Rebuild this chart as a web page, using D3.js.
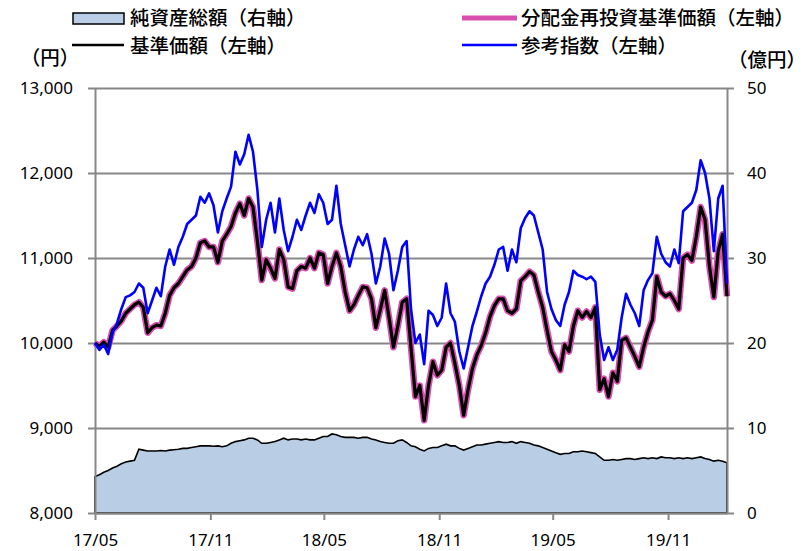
<!DOCTYPE html>
<html>
<head>
<meta charset="utf-8">
<script src="https://cdn.jsdelivr.net/npm/d3@7"></script>
<style>
  body { margin: 0; background: #fff; }
  text { fill: #000; }
</style>
</head>
<body>
<svg id="chart" width="806" height="551"></svg>
<script>
// weekly readings starting at 2017/05/01
const startDate = new Date(2017, 4, 1);
const tickMonths = ["2017-05", "2017-11", "2018-05", "2018-11", "2019-05", "2019-11"];
const leftTicks = [8000, 9000, 10000, 11000, 12000, 13000];
const rightTicks = [0, 10, 20, 30, 40, 50];

// 基準価額 (円)
const basePrice = [
  10000, 9960, 10010, 9950, 10150, 10200, 10260, 10350, 10400, 10450,
  10480, 10420, 10120, 10180, 10210, 10200, 10350, 10560, 10650, 10700,
  10780, 10860, 10900, 11000, 11180, 11200, 11130, 11130, 10950, 11200,
  11280, 11370, 11530, 11640, 11500, 11700, 11600, 11200, 10740, 10980,
  10880, 10760, 11100, 10980, 10660, 10640, 10850, 10900, 10880, 11000,
  10880, 11060, 11040, 10700, 10900, 11060, 10900, 10600, 10380, 10450,
  10560, 10660, 10650, 10520, 10180, 10390, 10620, 10300, 9950, 10200,
  10480, 10520, 9950, 9370, 9500, 9090, 9500, 9780, 9620, 9680,
  9950, 10000, 9760, 9500, 9150, 9450, 9700, 9860, 9970, 10120,
  10310, 10440, 10520, 10520, 10380, 10350, 10400, 10730, 10780, 10840,
  10800, 10600, 10420, 10150, 9900, 9800, 9680, 9980, 9900, 10200,
  10380, 10300, 10370, 10300, 10420, 9450, 9580, 9370, 9650, 9550,
  10030, 10060, 9950, 9840, 9720, 9950, 10130, 10270, 10780, 10600,
  10550, 10580, 10500, 10400, 11000, 11040, 10970, 11250, 11600, 11450,
  10900, 10540, 11080, 11280, 10550
];

// 分配金再投資基準価額 (円) - no distributions, sits under the base price
const reinvestPrice = [
  10000, 9960, 10010, 9950, 10150, 10200, 10260, 10350, 10400, 10450,
  10480, 10420, 10120, 10180, 10210, 10200, 10350, 10560, 10650, 10700,
  10780, 10860, 10900, 11000, 11180, 11200, 11130, 11130, 10950, 11200,
  11280, 11370, 11530, 11640, 11500, 11700, 11600, 11200, 10740, 10980,
  10880, 10760, 11100, 10980, 10660, 10640, 10850, 10900, 10880, 11000,
  10880, 11060, 11040, 10700, 10900, 11060, 10900, 10600, 10380, 10450,
  10560, 10660, 10650, 10520, 10180, 10390, 10620, 10300, 9950, 10200,
  10480, 10520, 9950, 9370, 9500, 9090, 9500, 9780, 9620, 9680,
  9950, 10000, 9760, 9500, 9150, 9450, 9700, 9860, 9970, 10120,
  10310, 10440, 10520, 10520, 10380, 10350, 10400, 10730, 10780, 10840,
  10800, 10600, 10420, 10150, 9900, 9800, 9680, 9980, 9900, 10200,
  10380, 10300, 10370, 10300, 10420, 9450, 9580, 9370, 9650, 9550,
  10030, 10060, 9950, 9840, 9720, 9950, 10130, 10270, 10780, 10600,
  10550, 10580, 10500, 10400, 11000, 11040, 10970, 11250, 11600, 11450,
  10900, 10540, 11080, 11280, 10550
];

// 参考指数
const refIndex = [
  10000, 9920, 9980, 9870, 10120, 10230, 10400, 10540, 10560, 10600,
  10700, 10650, 10350, 10500, 10650, 10550, 10900, 11100, 10920, 11130,
  11250, 11400, 11450, 11500, 11720, 11650, 11760, 11620, 11300, 11550,
  11700, 11840, 12250, 12100, 12220, 12450, 12250, 11800, 11130, 11450,
  11650, 11300, 11700, 11330, 11080, 11250, 11450, 11330, 11500, 11650,
  11530, 11750, 11650, 11400, 11450, 11850, 11400, 11150, 10900, 11100,
  11250, 11150, 11280, 11050, 10700, 10900, 11230, 11050, 10620, 10850,
  11130, 11200, 10400, 10000, 10100, 9750, 10380, 10330, 10200, 10300,
  10700, 10350, 10250, 9900, 9700, 9950, 10200, 10370, 10550, 10700,
  10780, 10920, 11100, 11130, 10850, 11100, 10950, 11350, 11470, 11550,
  11500, 11300, 11100, 10600, 10400, 10270, 10200, 10450, 10600, 10850,
  10800, 10780, 10750, 10780, 10720, 10100, 9800, 9950, 9800, 9920,
  10300, 10580, 10450, 10350, 10200, 10620, 10740, 10820, 11250, 11050,
  10950, 10900, 11100, 10940, 11550, 11600, 11650, 11800, 12150, 12000,
  11700, 11080, 11700, 11850, 10700
];

// 純資産総額 (億円)
const netAssets = [
  4.3, 4.5, 4.8, 5.0, 5.3, 5.5, 5.8, 6.0, 6.1, 6.2,
  7.5, 7.4, 7.3, 7.3, 7.3, 7.35, 7.3, 7.4, 7.45, 7.5,
  7.6, 7.6, 7.7, 7.8, 7.9, 7.9, 7.9, 7.85, 7.9, 7.8,
  7.9, 8.2, 8.4, 8.5, 8.6, 8.8, 8.8, 8.6, 8.2, 8.2,
  8.3, 8.4, 8.6, 8.8, 8.6, 8.7, 8.7, 8.6, 8.7, 8.6,
  8.6, 8.8, 9.0, 9.0, 9.3, 9.2, 9.0, 8.9, 8.9, 8.9,
  8.8, 8.9, 8.9, 8.7, 8.6, 8.4, 8.3, 8.2, 8.2, 8.5,
  8.6, 8.3, 7.9, 7.8, 7.5, 7.3, 7.6, 7.7, 7.7, 7.9,
  8.1, 7.9, 7.9, 7.6, 7.4, 7.6, 7.8, 8.0, 8.0, 8.1,
  8.2, 8.3, 8.4, 8.3, 8.3, 8.4, 8.2, 8.4, 8.3, 8.2,
  8.0, 7.9, 7.7, 7.5, 7.3, 7.1, 6.9, 7.0, 7.0, 7.2,
  7.2, 7.3, 7.2, 7.1, 7.0, 6.6, 6.2, 6.2, 6.3, 6.2,
  6.3, 6.4, 6.4, 6.3, 6.4, 6.5, 6.4, 6.5, 6.4, 6.6,
  6.5, 6.5, 6.4, 6.5, 6.4, 6.5, 6.4, 6.5, 6.6, 6.4,
  6.3, 6.1, 6.2, 6.1, 5.9
];

const dates = basePrice.map((_, i) => d3.timeDay.offset(startDate, 7 * i));
const tickDates = tickMonths.map(d3.timeParse("%Y-%m"));

const plot = { left: 95, right: 727, top: 88, bottom: 513 };
const numFont = "'Noto Sans', 'DejaVu Sans', sans-serif";
const jpFont = "'Noto Sans CJK JP', sans-serif";
const gridColor = "#878787";

const svg = d3.select("#chart");

const x = d3.scaleTime()
    .domain([dates[0], dates[dates.length - 1]])
    .range([plot.left, plot.right]);
const yL = d3.scaleLinear().domain([8000, 13000]).range([plot.bottom, plot.top]);
const yR = d3.scaleLinear().domain([0, 50]).range([plot.bottom, plot.top]);

// gridlines
svg.append("g")
    .attr("transform", `translate(${plot.left},0)`)
    .call(d3.axisLeft(yL).tickValues(leftTicks).tickSize(-(plot.right - plot.left)).tickFormat(""))
    .call(g => g.select(".domain").remove())
    .selectAll("line").attr("stroke", gridColor).attr("stroke-width", 2);

// net assets area (right axis)
const area = d3.area()
    .x((d, i) => x(dates[i]))
    .y0(yR(0))
    .y1(d => yR(d));
svg.append("path")
    .datum(netAssets)
    .attr("fill", "#b9cde5")
    .attr("stroke", "#000")
    .attr("stroke-width", 1.6)
    .attr("d", area);

// axes
const styleAxis = g => {
    g.select(".domain").attr("stroke", gridColor).attr("stroke-width", 2);
    g.selectAll(".tick line").attr("stroke", gridColor).attr("stroke-width", 2);
    g.selectAll("text").attr("font-family", numFont).attr("font-size", 17).attr("fill", "#000");
};

svg.append("g")
    .attr("transform", `translate(${plot.left},0)`)
    .call(d3.axisLeft(yL).tickValues(leftTicks).tickSize(7).tickSizeOuter(0).tickPadding(15)
        .tickFormat(d3.format(",")))
    .call(styleAxis);

svg.append("g")
    .attr("transform", `translate(${plot.right},0)`)
    .call(d3.axisRight(yR).tickValues(rightTicks).tickSize(7).tickSizeOuter(0).tickPadding(13))
    .call(styleAxis);

svg.append("g")
    .attr("transform", `translate(0,${plot.bottom})`)
    .call(d3.axisBottom(x).tickValues(tickDates).tickSize(7).tickSizeOuter(0).tickPadding(14)
        .tickFormat(d3.timeFormat("%y/%m")))
    .call(styleAxis);

// price lines
const line = d3.line().x((d, i) => x(dates[i])).y(d => yL(d));

svg.append("path").datum(reinvestPrice)
    .attr("fill", "none").attr("stroke", "#d94fb0").attr("stroke-width", 6.5)
    .attr("stroke-linejoin", "round").attr("d", line);
svg.append("path").datum(basePrice)
    .attr("fill", "none").attr("stroke", "#000").attr("stroke-width", 3.2)
    .attr("stroke-linejoin", "round").attr("d", line);
svg.append("path").datum(refIndex)
    .attr("fill", "none").attr("stroke", "#0000ff").attr("stroke-width", 2.6)
    .attr("stroke-linejoin", "round").attr("d", line);

// unit labels
svg.append("text").attr("x", 50).attr("y", 58).attr("dy", "0.35em")
    .attr("text-anchor", "middle").attr("font-family", jpFont).attr("font-size", 19.5)
    .attr("font-weight", 500).text("（円）");
svg.append("text").attr("x", 767).attr("y", 60).attr("dy", "0.35em")
    .attr("text-anchor", "middle").attr("font-family", jpFont).attr("font-size", 19.5)
    .attr("font-weight", 500).text("（億円）");

// legend
const legend = svg.append("g").attr("font-family", jpFont).attr("font-size", 19.5)
    .attr("font-weight", 500);

legend.append("rect").attr("x", 73).attr("y", 13).attr("width", 51).attr("height", 11)
    .attr("fill", "#b9cde5").attr("stroke", "#000").attr("stroke-width", 1.5);
legend.append("text").attr("x", 130).attr("y", 18).attr("dy", "0.35em").text("純資産総額（右軸）");

legend.append("line").attr("x1", 462).attr("x2", 517).attr("y1", 18).attr("y2", 18)
    .attr("stroke", "#d94fb0").attr("stroke-width", 5);
legend.append("text").attr("x", 521).attr("y", 18).attr("dy", "0.35em").text("分配金再投資基準価額（左軸）");

legend.append("line").attr("x1", 72).attr("x2", 124).attr("y1", 45).attr("y2", 45)
    .attr("stroke", "#000").attr("stroke-width", 2.5);
legend.append("text").attr("x", 130).attr("y", 46).attr("dy", "0.35em").text("基準価額（左軸）");

legend.append("line").attr("x1", 462).attr("x2", 517).attr("y1", 45).attr("y2", 45)
    .attr("stroke", "#0000ff").attr("stroke-width", 2.5);
legend.append("text").attr("x", 521).attr("y", 46).attr("dy", "0.35em").text("参考指数（左軸）");
</script>
</body>
</html>
